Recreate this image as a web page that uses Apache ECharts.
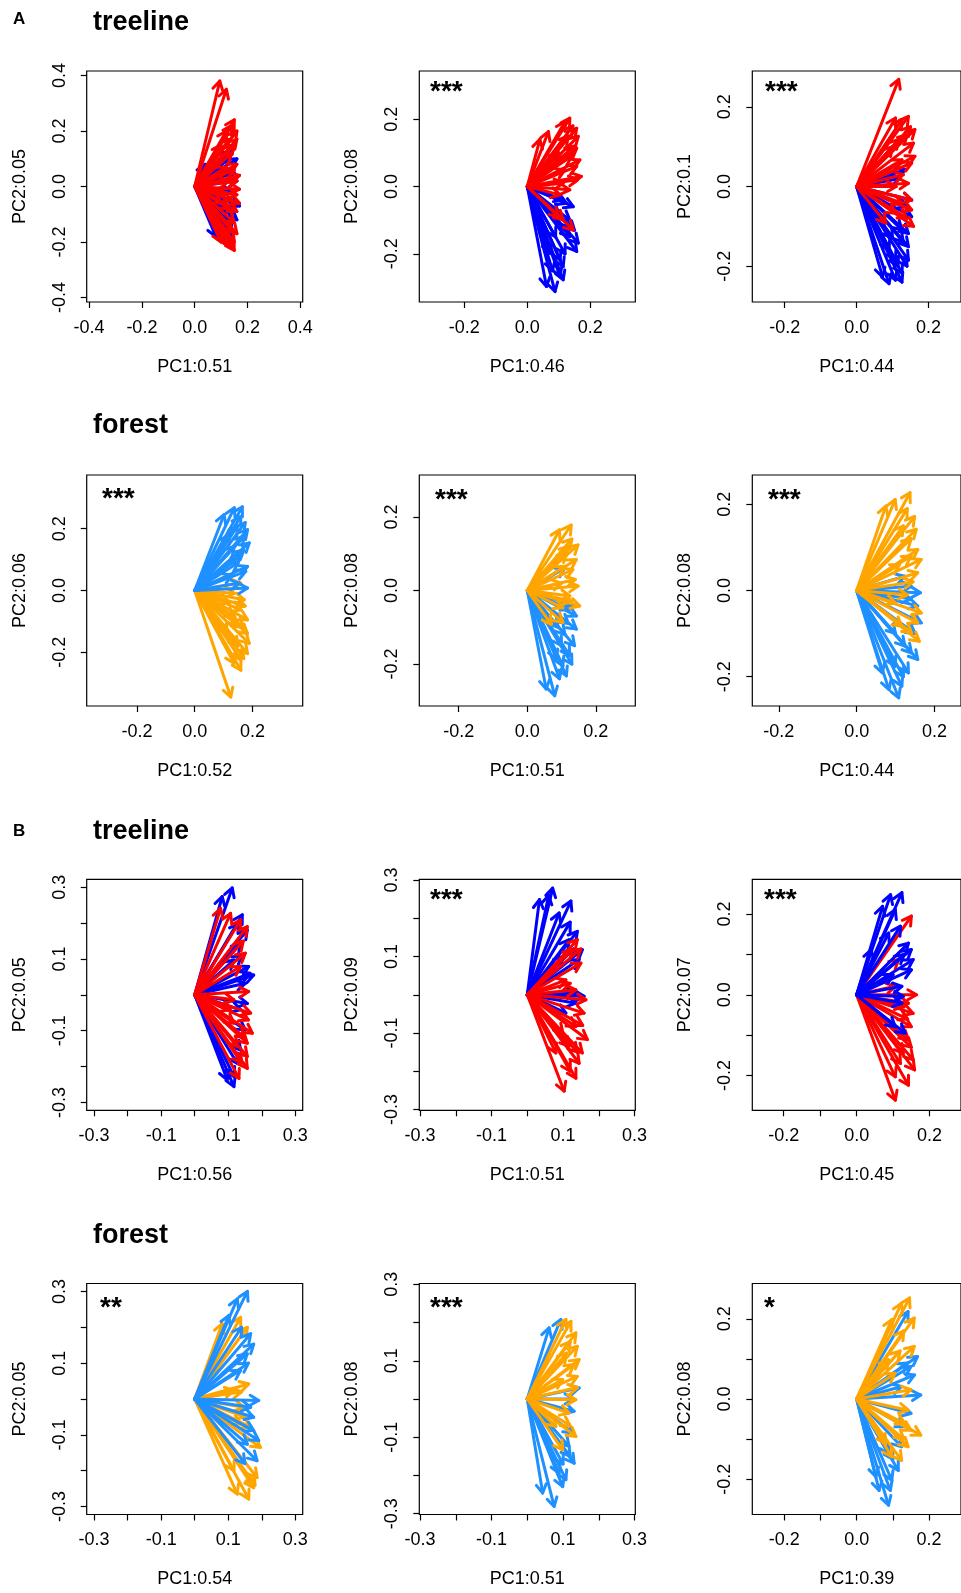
<!DOCTYPE html>
<html><head><meta charset="utf-8">
<script src="https://cdn.jsdelivr.net/npm/echarts@6/dist/echarts.min.js"></script>
<style>html,body{margin:0;padding:0;background:#fff}#c{width:961px;height:1593px}</style>
</head><body><div id="c"></div>
<script>
// ---------- DATA ----------
const xTitles = ['PC1:0.51','PC1:0.46','PC1:0.44','PC1:0.52','PC1:0.51','PC1:0.44','PC1:0.56','PC1:0.51','PC1:0.45','PC1:0.54','PC1:0.51','PC1:0.39'];
const yTitles = ['PC2:0.05','PC2:0.08','PC2:0.1','PC2:0.06','PC2:0.08','PC2:0.08','PC2:0.05','PC2:0.09','PC2:0.07','PC2:0.05','PC2:0.08','PC2:0.08'];
const stars = ['','***','***','***','***','***','','***','***','**','***','*'];
const sectionLetters = ['A','B'];
const rowTitles = ['treeline','forest','treeline','forest'];
const xLimits = [0.409,0.343,0.29,0.374,0.315,0.268,0.322,0.302,0.286,0.322,0.302,0.288];
const yLimits = [0.416,0.343,0.29,0.374,0.314,0.268,0.322,0.302,0.286,0.322,0.302,0.288];
const ticksA1 = [-0.4,-0.2,0,0.2,0.4];
const ticksA = [-0.2,0,0.2];
const ticksB3 = [-0.3,-0.2,-0.1,0,0.1,0.2,0.3];
const labelsB3 = [-0.3,-0.1,0.1,0.3];
const ticksB2 = [-0.2,-0.1,0,0.1,0.2];
const labelsB2 = [-0.2,0,0.2];

const A1_blue = [[0.15,0.15],[0.14,0.13],[0.1,0.08],[0.13,0.1],[0.16,0.1],[0.04,0.08],[0.15,0.05],[0.16,0.02],[0.14,-0.02],[0.17,-0.07],[0.15,-0.09],[0.16,-0.12],[0.14,-0.14],[0.12,-0.12],[0.13,-0.16],[0.08,-0.18],[0.11,-0.2],[0.14,-0.19],[0.1,-0.12],[0.12,-0.08]];
const A1_red = [[0.095,0.38],[0.12,0.35],[0.15,0.24],[0.16,0.2],[0.14,0.22],[0.12,0.2],[0.16,0.17],[0.13,0.17],[0.15,0.15],[0.1,0.15],[0.14,0.12],[0.16,0.08],[0.15,0.06],[0.12,0.07],[0.17,0.04],[0.16,0.02],[0.13,0.02],[0.17,-0.01],[0.16,-0.03],[0.12,-0.03],[0.17,-0.06],[0.14,-0.05],[0.16,-0.09],[0.13,-0.08],[0.1,-0.06],[0.15,-0.13],[0.14,-0.16],[0.16,-0.17],[0.15,-0.2],[0.14,-0.22],[0.12,-0.21],[0.1,-0.2],[0.15,-0.23],[0.13,-0.18]];
const A2_blue = [[0.114,-0.04],[0.146,-0.06],[0.125,-0.05],[0.135,-0.1],[0.162,-0.168],[0.157,-0.193],[0.114,-0.238],[0.104,-0.267],[0.088,-0.312],[0.114,-0.277],[0.061,-0.297],[0.104,-0.218],[0.072,-0.198],[0.135,-0.149],[0.15,-0.13],[0.09,-0.15],[0.12,-0.2],[0.08,-0.25],[0.1,-0.08],[0.14,-0.12]];
const A2_red = [[0.067,0.163],[0.04,0.14],[0.135,0.203],[0.12,0.193],[0.157,0.173],[0.162,0.149],[0.157,0.114],[0.167,0.079],[0.172,0.03],[0.135,-0.01],[0.104,-0.025],[0.114,0.01],[0.157,0.06],[0.1,0.1],[0.13,0.15],[0.14,0.09],[0.15,0.12],[0.12,0.05],[0.145,0.18],[0.16,0.02],[0.114,-0.099],[0.146,-0.129],[0.1,-0.09]];
const A3_blue = [[0.153,-0.034],[0.14,-0.05],[0.153,-0.076],[0.144,-0.118],[0.144,-0.151],[0.144,-0.185],[0.126,-0.218],[0.108,-0.235],[0.09,-0.244],[0.072,-0.227],[0.126,-0.24],[0.108,-0.185],[0.09,-0.16],[0.126,-0.109],[0.135,0.042],[0.12,0.02],[0.13,-0.14],[0.1,-0.13],[0.115,-0.2],[0.14,-0.2]];
const A3_red = [[0.117,0.269],[0.126,0.168],[0.144,0.176],[0.108,0.172],[0.162,0.143],[0.158,0.109],[0.162,0.076],[0.153,0.059],[0.144,0.008],[0.153,-0.034],[0.153,-0.059],[0.158,-0.1],[0.108,-0.067],[0.126,-0.042],[0.117,0.118],[0.126,0.067],[0.081,-0.092],[0.14,0.13],[0.15,0.15],[0.1,0.1],[0.13,0.03],[0.11,0.0],[0.14,-0.08]];
const A4_blue = [[0.165,0.271],[0.137,0.268],[0.102,0.246],[0.183,0.197],[0.172,0.176],[0.189,0.154],[0.16,0.111],[0.183,0.078],[0.177,0.062],[0.137,0.143],[0.148,0.208],[0.183,0.008],[0.154,0.024],[0.16,0.24],[0.17,0.13],[0.12,0.18],[0.15,0.09],[0.13,0.05],[0.175,0.22]];
const A4_orange = [[0.16,0.024],[0.137,-0.009],[0.172,-0.03],[0.16,-0.063],[0.183,-0.095],[0.183,-0.139],[0.189,-0.171],[0.183,-0.204],[0.16,-0.225],[0.16,-0.258],[0.137,-0.236],[0.125,-0.345],[0.114,-0.139],[0.137,-0.085],[0.17,-0.12],[0.15,-0.18],[0.175,-0.05],[0.12,-0.04],[0.17,-0.22],[0.15,-0.11]];
const A5_blue = [[0.109,0.061],[0.143,-0.069],[0.143,-0.105],[0.138,-0.15],[0.124,-0.177],[0.104,-0.205],[0.094,-0.24],[0.08,-0.286],[0.055,-0.268],[0.114,-0.232],[0.085,-0.186],[0.124,-0.051],[0.11,-0.12],[0.13,-0.2],[0.1,-0.15],[0.09,-0.1],[0.12,-0.09],[0.135,-0.04]];
const A5_orange = [[0.128,0.178],[0.094,0.165],[0.148,0.124],[0.143,0.084],[0.133,0.057],[0.148,0.012],[0.153,-0.042],[0.124,-0.015],[0.104,-0.047],[0.104,-0.087],[0.07,-0.092],[0.109,0.066],[0.114,0.102],[0.13,0.14],[0.12,0.12],[0.14,0.03],[0.1,0.02],[0.13,-0.03]];
const A6_blue = [[0.124,0.033],[0.164,-0.005],[0.157,-0.036],[0.166,-0.075],[0.157,-0.16],[0.141,-0.145],[0.124,-0.129],[0.133,-0.191],[0.116,-0.222],[0.108,-0.249],[0.083,-0.23],[0.066,-0.191],[0.099,-0.176],[0.14,-0.02],[0.15,-0.1],[0.1,-0.1],[0.12,-0.2],[0.14,0.01]];
const A6_orange = [[0.137,0.227],[0.099,0.211],[0.075,0.196],[0.149,0.172],[0.153,0.142],[0.157,0.095],[0.166,0.072],[0.14,0.08],[0.157,0.041],[0.166,-0.052],[0.157,-0.075],[0.161,-0.118],[0.141,-0.098],[0.116,-0.083],[0.099,-0.029],[0.13,-0.01],[0.12,0.15],[0.13,0.19],[0.14,0.12],[0.11,0.06],[0.145,0.02]];
const B1_blue = [[0.112,0.298],[0.082,0.274],[0.142,0.223],[0.157,0.181],[0.137,0.144],[0.161,0.079],[0.176,0.055],[0.151,0.032],[0.157,-0.024],[0.137,-0.042],[0.151,-0.098],[0.137,-0.154],[0.117,-0.228],[0.117,-0.256],[0.097,-0.237],[0.127,-0.191],[0.117,0.097],[0.13,0.2],[0.165,0.06],[0.14,0.11]];
const B1_red = [[0.077,0.241],[0.107,0.227],[0.137,0.209],[0.157,0.19],[0.151,0.116],[0.137,0.079],[0.161,0.009],[0.117,-0.014],[0.167,-0.051],[0.172,-0.107],[0.157,-0.135],[0.157,-0.172],[0.157,-0.205],[0.132,-0.233],[0.107,-0.042],[0.117,-0.079],[0.127,-0.144],[0.145,0.15],[0.16,-0.07],[0.14,-0.19],[0.15,-0.12]];
const B2_blue = [[0.071,0.279],[0.034,0.249],[0.122,0.245],[0.089,0.214],[0.14,0.166],[0.154,0.118],[0.145,0.092],[0.117,0.144],[0.159,-0.004],[0.136,-0.022],[0.108,-0.048],[0.136,0.004],[0.06,0.26],[0.12,0.19],[0.13,0.12],[0.1,0.1]];
const B2_red = [[0.14,0.144],[0.126,0.118],[0.15,0.083],[0.108,0.039],[0.136,0.013],[0.164,-0.013],[0.159,-0.048],[0.168,-0.117],[0.154,-0.152],[0.145,-0.179],[0.136,-0.218],[0.103,-0.252],[0.08,-0.152],[0.117,-0.135],[0.136,-0.083],[0.15,0.12],[0.155,-0.08],[0.14,-0.15],[0.12,-0.2],[0.1,-0.1],[0.12,0.03]];
const B3_blue = [[0.093,0.248],[0.124,0.253],[0.071,0.219],[0.106,0.211],[0.04,0.112],[0.088,0.153],[0.142,0.128],[0.15,0.112],[0.155,0.087],[0.15,0.062],[0.124,0.021],[0.124,-0.021],[0.133,-0.095],[0.106,-0.079],[0.128,-0.004],[0.12,0.17],[0.13,0.1],[0.1,0.05]];
const B3_red = [[0.15,0.195],[0.115,0.087],[0.106,0.021],[0.164,0],[0.142,-0.021],[0.155,-0.046],[0.15,-0.079],[0.142,-0.112],[0.159,-0.186],[0.155,-0.161],[0.142,-0.224],[0.106,-0.261],[0.106,-0.203],[0.128,-0.145],[0.14,-0.06],[0.15,-0.13],[0.12,-0.17],[0.13,-0.03]];
const B4_blue = [[0.157,0.3],[0.127,0.279],[0.102,0.233],[0.167,0.182],[0.176,0.153],[0.157,0.126],[0.137,0.08],[0.191,-0.004],[0.167,-0.023],[0.176,-0.051],[0.176,-0.088],[0.191,-0.116],[0.157,-0.126],[0.186,-0.172],[0.15,-0.18],[0.14,0.2],[0.16,0.1]];
const B4_orange = [[0.082,0.21],[0.137,0.228],[0.157,0.2],[0.161,0.042],[0.117,0.024],[0.147,-0.023],[0.137,-0.07],[0.167,-0.079],[0.196,-0.135],[0.186,-0.219],[0.176,-0.247],[0.161,-0.279],[0.127,-0.265],[0.117,-0.2],[0.18,-0.24],[0.14,0.02],[0.15,-0.05]];
const B5_blue = [[0.094,0.208],[0.061,0.186],[0.145,0.029],[0.131,-0.032],[0.127,-0.089],[0.131,-0.168],[0.108,-0.211],[0.099,-0.229],[0.075,-0.281],[0.043,-0.246],[0.089,-0.194],[0.117,-0.124],[0.12,-0.15],[0.1,-0.17],[0.13,0.0]];
const B5_orange = [[0.108,0.208],[0.122,0.203],[0.136,0.173],[0.14,0.138],[0.145,0.103],[0.14,0.059],[0.136,-0.002],[0.117,-0.037],[0.136,-0.098],[0.099,-0.133],[0.08,-0.072],[0.099,0.051],[0.12,0.15],[0.13,0.09],[0.11,0.12],[0.14,0.03],[0.12,-0.07]];
const B6_blue = [[0.142,0.218],[0.168,0.106],[0.15,0.081],[0.177,0.01],[0.124,0.031],[0.15,-0.036],[0.133,-0.069],[0.124,-0.119],[0.115,-0.178],[0.097,-0.203],[0.093,-0.228],[0.088,-0.265],[0.062,-0.228],[0.053,-0.194],[0.088,-0.136],[0.16,0.06],[0.14,0.09],[0.1,-0.15]];
const B6_orange = [[0.146,0.252],[0.124,0.239],[0.159,0.202],[0.097,0.198],[0.159,0.131],[0.088,0.098],[0.106,0.064],[0.15,0.023],[0.142,-0.028],[0.177,-0.09],[0.133,-0.061],[0.142,-0.119],[0.124,-0.153],[0.097,-0.144],[0.08,-0.111],[0.15,-0.078],[0.13,0.17],[0.12,0.12],[0.13,-0.1]];

// ---------- STYLE / LAYOUT ----------
const RED='#FF0000', BLUE='#0000FF', DBLUE='#1E90FF', ORANGE='#FFA500';
const FONT='"Liberation Sans", Arial, sans-serif';
const COL_LEFT=[86.7,419.3,752.3], ROW_TOP=[71,475,879.3,1283.5], W=216, H=231;

const layers = [
  [[A1_blue,BLUE],[A1_red,RED]],
  [[A2_blue,BLUE],[A2_red,RED]],
  [[A3_blue,BLUE],[A3_red,RED]],
  [[A4_orange,ORANGE],[A4_blue,DBLUE]],
  [[A5_blue,DBLUE],[A5_orange,ORANGE]],
  [[A6_blue,DBLUE],[A6_orange,ORANGE]],
  [[B1_blue,BLUE],[B1_red,RED]],
  [[B2_blue,BLUE],[B2_red,RED]],
  [[B3_red,RED],[B3_blue,BLUE]],
  [[B4_orange,ORANGE],[B4_blue,DBLUE]],
  [[B5_blue,DBLUE],[B5_orange,ORANGE]],
  [[B6_blue,DBLUE],[B6_orange,ORANGE]]
];
function tickSet(i){
  if(i===0) return [ticksA1,ticksA1];
  if(i<6) return [ticksA,ticksA];
  if(i===8||i===11) return [ticksB2,labelsB2];
  return [ticksB3,labelsB3];
}
const fmt = v => (Math.abs(v)<1e-9?0:v).toFixed(1);
const starPos = [null,[430,92],[765,92],[102,499],[435,500],[768,500],null,[430,900],[764,900],[100,1308],[430,1308],[764,1308]];

const grids=[], xAxes=[], yAxes=[], series=[], graphics=[];
for(let i=0;i<12;i++){
  const r=Math.floor(i/3), c=i%3;
  grids.push({left:COL_LEFT[c], top:ROW_TOP[r], width:W, height:H, show:true, borderColor:'#000', borderWidth:1.2, backgroundColor:'transparent'});
  const [tk,lb]=tickSet(i);
  const common = {gridIndex:i, type:'value', splitLine:{show:false}, axisLine:{show:false, onZero:false},
    axisTick:{show:true, inside:false, length:6, customValues:tk, lineStyle:{color:'#000', width:1.2}},
    axisLabel:{customValues:lb, formatter:fmt, color:'#000', fontSize:18, fontFamily:FONT},
    nameLocation:'middle', nameTextStyle:{color:'#000', fontSize:18, fontFamily:FONT}};
  xAxes.push(Object.assign({}, common, {position:'bottom', min:-xLimits[i], max:xLimits[i], name:xTitles[i], nameGap:56,
    axisLabel:Object.assign({}, common.axisLabel, {margin:17})}));
  yAxes.push(Object.assign({}, common, {position:'left', min:-yLimits[i], max:yLimits[i], name:yTitles[i], nameGap:58,
    axisLabel:Object.assign({}, common.axisLabel, {rotate:90, margin:18})}));
  layers[i].forEach(([data,color])=>{
    series.push({type:'custom', coordinateSystem:'cartesian2d', xAxisIndex:i, yAxisIndex:i,
      data:data, encode:{x:0,y:1}, silent:true, clip:false, itemStyle:{color:color},
      renderItem:(params,api)=>{
        const o=api.coord([0,0]), p=api.coord([api.value(0),api.value(1)]);
        const ang=Math.atan2(p[1]-o[1],p[0]-o[0]), L=10, a=Math.PI/6;
        const h1=[p[0]-L*Math.cos(ang-a), p[1]-L*Math.sin(ang-a)];
        const h2=[p[0]-L*Math.cos(ang+a), p[1]-L*Math.sin(ang+a)];
        const st={stroke:color, lineWidth:3, fill:null, lineCap:'round', lineJoin:'round'};
        return {type:'group', children:[
          {type:'line', shape:{x1:o[0],y1:o[1],x2:p[0],y2:p[1]}, style:st},
          {type:'polyline', shape:{points:[h1,p,h2]}, style:st}
        ]};
      }});
  });
  if(stars[i]){
    graphics.push({type:'text', x:starPos[i][0], y:starPos[i][1], style:{text:stars[i], font:'bold 28px '+FONT, fill:'#000', align:'left', verticalAlign:'middle'}});
  }
}
const rowTitleY=[22.5,426,832,1236];
rowTitles.forEach((t,k)=>graphics.push({type:'text', x:93, y:rowTitleY[k], style:{text:t, font:'bold 27px '+FONT, fill:'#000', align:'left', verticalAlign:'middle'}}));
const letterY=[19,831];
sectionLetters.forEach((t,k)=>graphics.push({type:'text', x:13, y:letterY[k], style:{text:t, font:'bold 17px '+FONT, fill:'#000', align:'left', verticalAlign:'middle'}}));

const chart=echarts.init(document.getElementById('c'),null,{renderer:'canvas'});
chart.setOption({animation:false, backgroundColor:'#fff', grid:grids, xAxis:xAxes, yAxis:yAxes, series:series, graphic:graphics});
</script></body></html>
